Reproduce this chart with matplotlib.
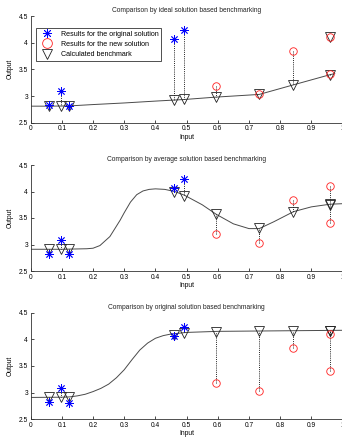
import matplotlib
matplotlib.use("Agg")
import matplotlib.pyplot as plt
from matplotlib.lines import Line2D

plt.rcParams['font.family'] = ['Liberation Sans', 'DejaVu Sans']

# Observed results
orig_x = [0.058, 0.098, 0.124, 0.460, 0.491]
orig_y = [2.83, 3.09, 2.815, 4.06, 4.23]
new_x = [0.594, 0.731, 0.842, 0.959, 0.959]
new_y = [3.19, 3.035, 3.84, 4.10, 3.41]

# Benchmark values for each result (original points first, then new points)
bench_ideal = [2.81, 2.81, 2.81, 2.93, 2.94, 2.98, 3.03, 3.21, 4.10, 3.40]
bench_average = [2.92, 2.92, 2.92, 3.99, 3.92, 3.57, 3.31, 3.62, 3.76, 3.75]
bench_original = [2.92, 2.92, 2.92, 4.09, 4.12, 4.14, 4.15, 4.16, 4.16, 4.16]

# Benchmark model curves
curve_ideal_x = [0, 0.06, 0.125, 0.2, 0.3, 0.4, 0.462, 0.493, 0.595, 0.733, 0.843, 0.96, 0.975]
curve_ideal_y = [2.81, 2.81, 2.815, 2.84, 2.87, 2.905, 2.925, 2.935, 2.98, 3.03, 3.21, 3.40, 3.42]

curve_average_x = [0, 0.1, 0.18, 0.2, 0.222, 0.254, 0.27, 0.287, 0.3, 0.32, 0.34, 0.36,
                   0.38, 0.4, 0.43, 0.462, 0.493, 0.55, 0.595, 0.65, 0.7, 0.733, 0.78,
                   0.843, 0.9, 0.96, 1.0]
curve_average_y = [2.91, 2.91, 2.92, 2.93, 2.98, 3.15, 3.30, 3.46, 3.60, 3.80, 3.94, 4.01,
                   4.04, 4.05, 4.04, 4.00, 3.93, 3.75, 3.57, 3.39, 3.30, 3.30, 3.43,
                   3.62, 3.71, 3.76, 3.77]

curve_original_x = [0, 0.1, 0.125, 0.15, 0.175, 0.2, 0.225, 0.25, 0.275, 0.3, 0.325, 0.35,
                    0.375, 0.4, 0.425, 0.45, 0.5, 0.6, 0.8, 1.0]
curve_original_y = [2.91, 2.915, 2.92, 2.94, 2.97, 3.02, 3.08, 3.16, 3.28, 3.43, 3.62, 3.80,
                    3.93, 4.02, 4.07, 4.10, 4.13, 4.15, 4.16, 4.17]

titles = ["Comparison by ideal solution based benchmarking",
          "Comparison by average solution based benchmarking",
          "Comparison by original solution based benchmarking"]
x_ticks = [0, 0.1, 0.2, 0.3, 0.4, 0.5, 0.6, 0.7, 0.8, 0.9, 1]
x_tick_labels = ["0", "0.1", "0.2", "0.3", "0.4", "0.5", "0.6", "0.7", "0.8", "0.9", "1"]
y_ticks = [2.5, 3, 3.5, 4, 4.5]
y_tick_labels = ["2.5", "3", "3.5", "4", "4.5"]
legend_labels = ["Results for the original solution",
                 "Results for the new solution",
                 "Calculated benchmark"]

FS = 4.8
STAR = (8, 2, 0)

fig = plt.figure(figsize=(3.42, 4.37), dpi=100)
W, H = 342, 437
boxes = [(30.7, 16.0, 122.7), (30.7, 165.0, 271.0), (30.7, 312.7, 419.3)]
x_right = 342.5

panels = [(bench_ideal, curve_ideal_x, curve_ideal_y),
          (bench_average, curve_average_x, curve_average_y),
          (bench_original, curve_original_x, curve_original_y)]

all_x = orig_x + new_x
all_y = orig_y + new_y

for i, ((left, top, bottom), (bench, cx, cy)) in enumerate(zip(boxes, panels)):
    ax = fig.add_axes([left / W, 1 - bottom / H, (x_right - left) / W, (bottom - top) / H])
    ax.set_xlim(0, 1)
    ax.set_ylim(2.5, 4.5)

    # model curve
    ax.plot(cx, cy, color='#4a4a4a', lw=0.7, zorder=2)

    # dotted connectors from each result to its benchmark
    for xv, yv, bv in zip(all_x, all_y, bench):
        ax.plot([xv, xv], [yv, bv], color='#222222', lw=0.7, ls=(0, (1, 1.2)), zorder=3)

    # benchmark markers
    ax.plot(all_x, bench, ls='none', marker='v', ms=6.5, mfc='none',
            mec='#222222', mew=0.6, zorder=4)
    # results
    ax.plot(orig_x, orig_y, ls='none', marker=STAR, ms=6, mec='#0000ff',
            mew=0.6, zorder=5)
    ax.plot(new_x, new_y, ls='none', marker='o', ms=5.4, mfc='none',
            mec='#ff2020', mew=0.6, zorder=5)

    ax.set_xticks(x_ticks)
    ax.set_xticklabels(x_tick_labels)
    ax.set_yticks(y_ticks)
    ax.set_yticklabels(y_tick_labels)
    ax.tick_params(direction='in', length=2, width=0.5, labelsize=FS, pad=2,
                   colors='black')
    for s in ['top', 'right']:
        ax.spines[s].set_visible(False)
    for s in ['left', 'bottom']:
        ax.spines[s].set_linewidth(0.6)
        ax.spines[s].set_color('#333333')

    ax.set_title(titles[i], fontsize=FS, pad=3, color='#222222')
    ax.set_xlabel("Input", fontsize=FS, labelpad=1)
    ax.set_ylabel("Output", fontsize=FS, labelpad=3.5)

    if i == 0:
        handles = [
            Line2D([], [], ls='none', marker=STAR, ms=6.5, mec='#0000ff', mew=0.6),
            Line2D([], [], ls='none', marker='o', ms=7, mfc='none', mec='#ff2020', mew=0.6),
            Line2D([], [], ls='none', marker='v', ms=7, mfc='none', mec='#222222', mew=0.6),
        ]
        leg = ax.legend(handles, legend_labels, loc='upper left',
                        bbox_to_anchor=(0.017, 0.888), borderaxespad=0,
                        fontsize=5.1, frameon=True, fancybox=False,
                        handlelength=2.2, handletextpad=0.9, labelspacing=0.45,
                        borderpad=0.4)
        leg.get_frame().set_edgecolor('black')
        leg.get_frame().set_linewidth(0.6)

fig.savefig("out.png", dpi=100, facecolor='white')
